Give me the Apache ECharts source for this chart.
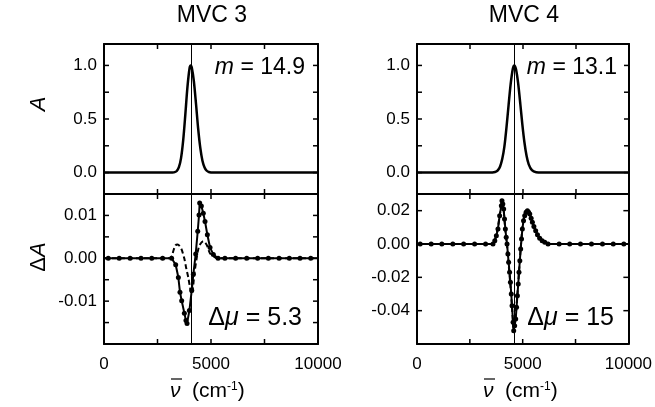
<!DOCTYPE html>
<html>
<head>
<meta charset="utf-8">
<script src="https://cdn.jsdelivr.net/npm/echarts@6/dist/echarts.min.js"></script>
<style>html,body{margin:0;padding:0;background:#fff}#main{width:655px;height:407px}</style>
</head>
<body>
<div id="main"></div>
<script>
// ticks and labels
var xTicks = [2500, 5000, 7500];
var xLabels = [0, 5000, 10000];
var absTicks = [0, 0.25, 0.5, 0.75, 1];
var absLabels = [0, 0.5, 1];
var d3Ticks = [-0.015, -0.01, -0.005, 0, 0.005, 0.01];
var d3Labels = [-0.01, 0, 0.01];
var d4Ticks = [-0.04, -0.02, 0, 0.02];
var d4Labels = [-0.04, -0.02, 0, 0.02];

var titles = ["MVC 3", "MVC 4"];
var peakPos = [4060, 4600];
var mValues = ["14.9", "13.1"];
var duValues = ["5.3", "15"];

// MVC 3
var mvc3Abs = [[0,0],[1000,0],[2000,0],[3000,0],[3200,0.001],[3300,0.004],[3400,0.015],[3500,0.05],[3600,0.135],
  [3700,0.30],[3800,0.54],[3900,0.80],[4000,0.976],[4050,1],[4100,0.982],[4200,0.85],[4300,0.64],[4400,0.41],
  [4500,0.23],[4600,0.11],[4700,0.047],[4800,0.017],[4900,0.005],[5000,0.0015],[5200,0],[6000,0],[8000,0],[10000,0]];
var mvc3Diff = [[0,0],[200,0],[710,0],[1220,0],[1730,0],[2230,0],[2740,0],[3160,0],[3350,-0.0015],[3475,-0.0045],
  [3550,-0.0079],[3630,-0.0099],[3755,-0.0128],[3830,-0.0145],[3880,-0.0152],[3990,-0.0122],[4100,-0.0075],
  [4175,-0.0037],[4285,0.001],[4380,0.0063],[4440,0.0101],[4470,0.0129],[4550,0.0122],[4640,0.0105],[4720,0.0086],
  [4830,0.0055],[4955,0.0025],[5110,0.0009],[5330,0],[5650,0],[6150,0],[6670,0],[7180,0],[7680,0],[8180,0],
  [8660,0],[9160,0],[9660,0],[10000,0]];
var mvc3DiffDash = [[0,0],[3000,0],[3150,0.0003],[3240,0.0017],[3340,0.003],[3440,0.0032],[3540,0.0028],[3630,0.002],
  [3750,0],[3850,-0.0025],[3940,-0.0045],[4020,-0.0068],[4100,-0.0083],[4160,-0.0068],[4220,-0.0037],[4330,0],
  [4400,0.002],[4485,0.0032],[4640,0.004],[4790,0.0032],[4950,0.0012],[5110,0.0005],[5300,0],[10000,0]];

// MVC 4
var mvc4Abs = [[0,0],[1000,0],[2000,0],[3000,0],[3500,0],[3620,0.0025],[3720,0.008],[3820,0.023],[3920,0.057],
  [4020,0.126],[4120,0.24],[4220,0.42],[4320,0.63],[4420,0.83],[4520,0.97],[4590,1],[4670,0.965],[4770,0.835],
  [4870,0.647],[4970,0.448],[5070,0.278],[5170,0.154],[5270,0.077],[5420,0.022],[5620,0.003],[5900,0],[7000,0],[10000,0]];
var mvc4Diff = [[0,0],[150,0],[670,0],[1175,0],[1695,0],[2205,0],[2725,0],[3245,0],[3595,0],[3680,0.002],[3755,0.005],
  [3830,0.009],[3910,0.017],[3990,0.023],[4020,0.026],[4060,0.024],[4100,0.021],[4140,0.015],[4180,0.009],[4220,0.004],
  [4260,0],[4300,-0.006],[4335,-0.011],[4380,-0.017],[4420,-0.023],[4460,-0.030],[4495,-0.037],[4545,-0.047],
  [4575,-0.052],[4620,-0.049],[4670,-0.045],[4710,-0.038],[4750,-0.031],[4790,-0.024],[4825,-0.017],[4865,-0.010],
  [4905,-0.003],[4945,0.003],[4985,0.009],[5040,0.014],[5095,0.017],[5160,0.019],[5225,0.020],[5280,0.019],
  [5335,0.018],[5400,0.0155],[5460,0.013],[5530,0.0105],[5615,0.008],[5700,0.0055],[5805,0.0034],[5920,0.002],
  [6045,0.001],[6200,0],[6725,0],[7225,0],[7735,0],[8255,0],[8775,0],[9285,0],[9785,0],[10000,0]];
var mvc4DiffDash = [[0,0],[3550,0],[3700,0.003],[3800,0.008],[3900,0.016],[4000,0.024],[4030,0.025],[4100,0.02],
  [4180,0.008],[4260,-0.001],[4340,-0.013],[4420,-0.025],[4500,-0.039],[4560,-0.05],[4590,-0.051],[4660,-0.044],
  [4750,-0.03],[4830,-0.016],[4910,-0.002],[4990,0.01],[5090,0.018],[5200,0.0205],[5330,0.018],[5460,0.0125],
  [5620,0.0075],[5800,0.003],[6050,0.0008],[6300,0],[10000,0]];

var FONT = "Liberation Sans";
var chart = echarts.init(document.getElementById("main"));

// data grids 0..3; grids 4,5 only carry the A-axis labels (0..1.2, so label steps start at 0)
var grids = [
  {left: 104, top: 44, width: 214, height: 150},
  {left: 104, top: 194, width: 214, height: 150},
  {left: 417, top: 44, width: 212, height: 150},
  {left: 417, top: 194, width: 212, height: 150},
  {left: 104, top: 44, width: 214, height: 150 * 1.2 / 1.4},
  {left: 417, top: 44, width: 212, height: 150 * 1.2 / 1.4}
];

function pick(list, digits) {
  return function (v) {
    for (var k = 0; k < list.length; k++) if (Math.abs(list[k] - v) < 1e-9) return list[k].toFixed(digits);
    return "";
  };
}

var lineStyle = {color: "#000", width: 2};
var TICK = 5;
var xAxes = [], yAxes = [], mainX = [], mainY = [];

// frame line + labels (ticks are drawn by the custom series below)
function frameAxis(dim, g, min, max, step, pos, labels, digits, showLabel, showLine) {
  return {type: "value", gridIndex: g, min: min, max: max, interval: step, position: pos,
    axisLine: {show: showLine, onZero: false, lineStyle: lineStyle}, splitLine: {show: false},
    axisTick: {show: false},
    axisLabel: {show: showLabel, margin: dim === "x" ? 12 : 7, color: "#000", fontSize: 17, fontFamily: FONT,
      formatter: labels ? pick(labels, digits) : function () { return ""; }}};
}

var panels = [
  {min: -0.2, max: 1.2, step: undefined, labels: null, digits: 1, ticks: absTicks},
  {min: -0.02, max: 0.015, step: 0.005, labels: d3Labels, digits: 2, ticks: d3Ticks},
  {min: -0.2, max: 1.2, step: undefined, labels: null, digits: 1, ticks: absTicks},
  {min: -0.06, max: 0.03, step: 0.02, labels: d4Labels, digits: 2, ticks: d4Ticks},
  {min: 0, max: 1.2, step: 0.25, labels: absLabels, digits: 1},
  {min: 0, max: 1.2, step: 0.25, labels: absLabels, digits: 1}
];
panels.forEach(function (p, g) {
  var main = g < 4;
  mainY[g] = yAxes.length;
  yAxes.push(frameAxis("y", g, p.min, p.max, p.step, "left", p.labels, p.digits, !!p.labels, main));
  if (main) yAxes.push(frameAxis("y", g, p.min, p.max, p.step, "right", null, 0, false, true));
  mainX[g] = xAxes.length;
  var lab = g === 1 || g === 3;
  xAxes.push(frameAxis("x", g, 0, 10000, 2500, "bottom", xLabels, 0, lab, main));
  if (main) xAxes.push(frameAxis("x", g, 0, 10000, 2500, "top", null, 0, false, true));
});

// inward tick marks on all four sides, placed through the panel's own scales
function tickSeries(g, dim, values) {
  var p = panels[g];
  return {type: "custom", coordinateSystem: "cartesian2d", xAxisIndex: mainX[g], yAxisIndex: mainY[g],
    silent: true, clip: false, z: 10,
    data: values.map(function (v) { return dim === "x" ? [v, p.min] : [0, v]; }),
    renderItem: function (params, api) {
      var st = {stroke: "#000", lineWidth: 1.5};
      var a, b;
      if (dim === "x") {
        a = api.coord([api.value(0), p.min]); b = api.coord([api.value(0), p.max]);
        return {type: "group", children: [
          {type: "line", shape: {x1: a[0], y1: a[1], x2: a[0], y2: a[1] - TICK}, style: st},
          {type: "line", shape: {x1: b[0], y1: b[1], x2: b[0], y2: b[1] + TICK}, style: st}]};
      }
      a = api.coord([0, api.value(1)]); b = api.coord([10000, api.value(1)]);
      return {type: "group", children: [
        {type: "line", shape: {x1: a[0], y1: a[1], x2: a[0] + TICK, y2: a[1]}, style: st},
        {type: "line", shape: {x1: b[0], y1: b[1], x2: b[0] - TICK, y2: b[1]}, style: st}]};
    }};
}

function vline(x) {
  return {silent: true, symbol: ["none", "none"], label: {show: false},
    lineStyle: {color: "#000", width: 1, type: "solid"}, data: [{xAxis: x}]};
}
function dotted(data) {
  return data.map(function (d, k) {
    return (k === 0 || k === data.length - 1) ? {value: d, symbol: "none"} : d;
  });
}

var series = [];
[[mvc3Abs, mvc3Diff, mvc3DiffDash], [mvc4Abs, mvc4Diff, mvc4DiffDash]].forEach(function (set, c) {
  var gTop = c * 2, gBot = c * 2 + 1;
  series.push({type: "line", xAxisIndex: mainX[gTop], yAxisIndex: mainY[gTop], data: set[0], showSymbol: false,
    smooth: 0.3, lineStyle: {color: "#000", width: 2.5}, markLine: vline(peakPos[c]), z: 3});
  series.push({type: "line", xAxisIndex: mainX[gBot], yAxisIndex: mainY[gBot], data: set[2], showSymbol: false,
    smooth: 0.3, lineStyle: {color: "#000", width: 2, type: [5, 3]}, z: 2});
  series.push({type: "line", xAxisIndex: mainX[gBot], yAxisIndex: mainY[gBot], data: dotted(set[1]),
    symbol: "circle", symbolSize: 5, showAllSymbol: true, itemStyle: {color: "#000"},
    lineStyle: {color: "#000", width: 2}, markLine: vline(peakPos[c]), z: 3});
});
[0, 1, 2, 3].forEach(function (g) {
  series.push(tickSeries(g, "x", xTicks));
  series.push(tickSeries(g, "y", panels[g].ticks));
});

var graphics = [];
var colCenter = [212, 524];
var colRight = [305, 617];
var colNu = [170, 483];
titles.forEach(function (t, c) {
  graphics.push({type: "text", x: colCenter[c], y: 16, style: {text: t, font: "23px " + FONT, fill: "#000",
    align: "center", verticalAlign: "middle"}});
  graphics.push({type: "text", x: colRight[c], y: 68, style: {text: "{i|m} = " + mValues[c], fill: "#000",
    align: "right", verticalAlign: "middle", font: "23px " + FONT,
    rich: {i: {fontStyle: "italic", fontSize: 23, fontFamily: FONT}}}});
  graphics.push({type: "text", x: colRight[c] - 3, y: 318, style: {text: "Δ{i|μ} = " + duValues[c], fill: "#000",
    align: "right", verticalAlign: "middle", font: "25px " + FONT,
    rich: {i: {fontStyle: "italic", fontSize: 25, fontFamily: FONT}}}});
  // x axis name: italic nu with overbar, then (cm-1)
  graphics.push({type: "text", x: colNu[c], y: 391, style: {text: "ν", fill: "#000",
    align: "left", verticalAlign: "middle", font: "italic 21px " + FONT}});
  graphics.push({type: "line", shape: {x1: colNu[c] + 1, y1: 379, x2: colNu[c] + 12, y2: 379},
    style: {stroke: "#000", lineWidth: 1.2}});
  graphics.push({type: "text", x: colNu[c] + 22, y: 391, style: {text: "(cm{s|-1})", fill: "#000",
    align: "left", verticalAlign: "middle", font: "21px " + FONT,
    rich: {s: {fontSize: 12, fontFamily: FONT, verticalAlign: "top"}}}});
});
graphics.push({type: "text", x: 39, y: 104, rotation: Math.PI / 2, style: {text: "{i|A}", fill: "#000",
  align: "center", verticalAlign: "middle", rich: {i: {fontStyle: "italic", fontSize: 22, fontFamily: FONT}}}});
graphics.push({type: "text", x: 39, y: 257, rotation: Math.PI / 2, style: {text: "Δ{i|A}", fill: "#000",
  align: "center", verticalAlign: "middle", font: "22px " + FONT,
  rich: {i: {fontStyle: "italic", fontSize: 22, fontFamily: FONT}}}});

chart.setOption({
  animation: false,
  backgroundColor: "#fff",
  grid: grids,
  xAxis: xAxes,
  yAxis: yAxes,
  series: series,
  graphic: graphics
});
</script>
</body>
</html>
